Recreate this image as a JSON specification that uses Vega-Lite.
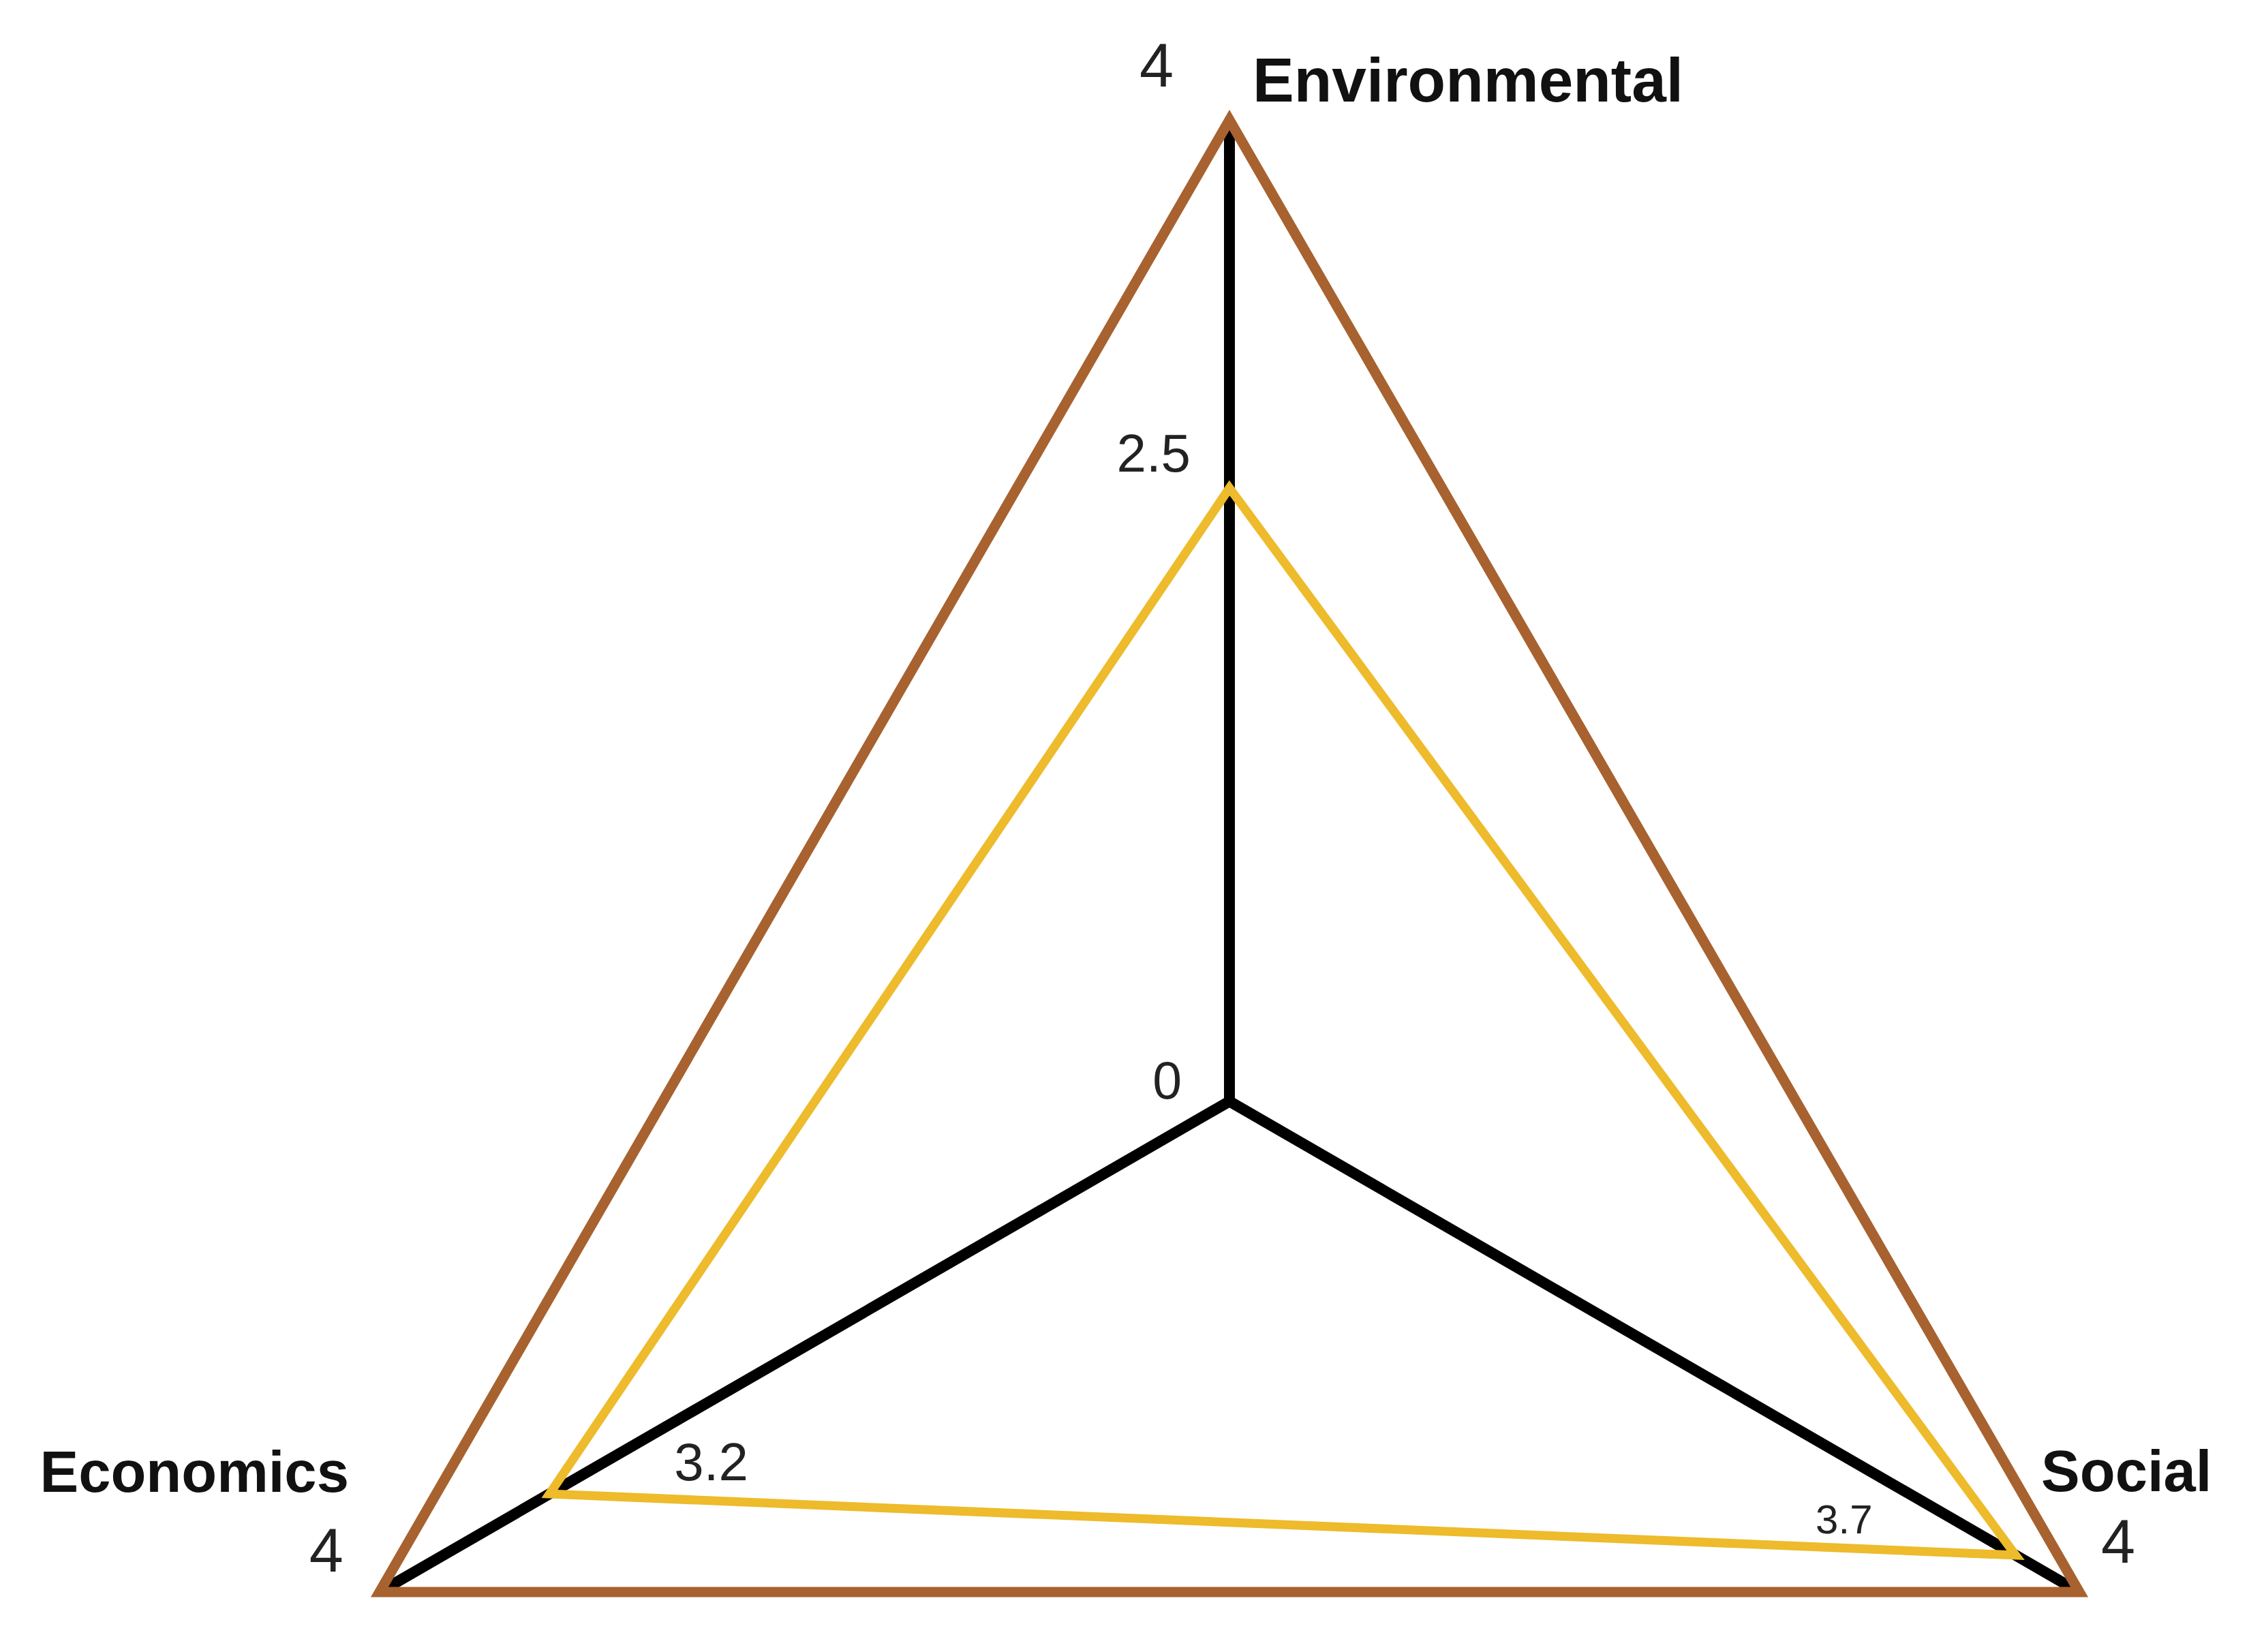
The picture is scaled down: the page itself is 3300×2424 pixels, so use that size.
{
  "$schema": "https://vega.github.io/schema/vega-lite/v6.json",
  "autosize": {"type": "fit", "contains": "padding"},
  "width": 3300,
  "height": 2424,
  "padding": 0,
  "background": "white",
  "config": {"view": {"stroke": null}},
  "data": {"values": [
    {"series": "Maximum", "axis": "Environmental", "value": 4},
    {"series": "Maximum", "axis": "Social", "value": 4},
    {"series": "Maximum", "axis": "Economics", "value": 4},
    {"series": "Score", "axis": "Environmental", "value": 2.5},
    {"series": "Score", "axis": "Social", "value": 3.7},
    {"series": "Score", "axis": "Economics", "value": 3.2},
    {"series": "Origin", "axis": "Environmental", "value": 0}
  ]},
  "transform": [
    {"calculate": "datum.axis === 'Environmental' ? 0 : (datum.axis === 'Social' ? 120 : 240)", "as": "angle"},
    {"calculate": "datum.value * sin(datum.angle * PI / 180)", "as": "px"},
    {"calculate": "datum.value * cos(datum.angle * PI / 180)", "as": "py"}
  ],
  "encoding": {
    "x": {"field": "px", "type": "quantitative", "scale": {"domain": [-5.0111, 4.1556], "nice": false, "zero": false}, "axis": null},
    "y": {"field": "py", "type": "quantitative", "scale": {"domain": [-2.2444, 4.4889], "nice": false, "zero": false}, "axis": null}
  },
  "layer": [
    {
      "transform": [{"filter": "datum.series === 'Maximum'"}],
      "mark": {"type": "rule", "color": "#000000", "strokeWidth": 16, "strokeCap": "butt"},
      "encoding": {
        "x": {"datum": 0, "type": "quantitative"},
        "y": {"datum": 0, "type": "quantitative"},
        "x2": {"field": "px"},
        "y2": {"field": "py"}
      }
    },
    {
      "transform": [{"filter": "datum.series === 'Maximum'"}],
      "mark": {"type": "line", "interpolate": "linear-closed", "color": "#A8622F", "strokeWidth": 15, "strokeJoin": "miter"},
      "encoding": {"order": {"field": "angle", "type": "quantitative"}}
    },
    {
      "transform": [{"filter": "datum.series === 'Score'"}],
      "mark": {"type": "line", "interpolate": "linear-closed", "color": "#EDBB2B", "strokeWidth": 13, "strokeJoin": "miter"},
      "encoding": {"order": {"field": "angle", "type": "quantitative"}}
    },
    {
      "transform": [{"filter": "datum.series === 'Maximum' && datum.axis === 'Environmental'"}],
      "mark": {"type": "text", "align": "left", "baseline": "alphabetic", "dx": 34, "dy": -27, "font": "Liberation Sans", "fontWeight": "bold", "fontSize": 91, "color": "#111111"},
      "encoding": {"text": {"field": "axis"}}
    },
    {
      "transform": [{"filter": "datum.series === 'Maximum' && datum.axis === 'Economics'"}],
      "mark": {"type": "text", "align": "right", "baseline": "alphabetic", "dx": -45, "dy": -147, "font": "Liberation Sans", "fontWeight": "bold", "fontSize": 85, "color": "#111111"},
      "encoding": {"text": {"field": "axis"}}
    },
    {
      "transform": [{"filter": "datum.series === 'Maximum' && datum.axis === 'Social'"}],
      "mark": {"type": "text", "align": "left", "baseline": "alphabetic", "dx": -56, "dy": -148, "font": "Liberation Sans", "fontWeight": "bold", "fontSize": 85, "color": "#111111"},
      "encoding": {"text": {"field": "axis"}}
    },
    {
      "transform": [{"filter": "datum.series === 'Maximum' && datum.axis === 'Environmental'"}],
      "mark": {"type": "text", "align": "right", "baseline": "alphabetic", "dx": -82, "dy": -49, "font": "Liberation Sans", "fontSize": 90, "color": "#222222"},
      "encoding": {"text": {"field": "value", "type": "quantitative"}}
    },
    {
      "transform": [{"filter": "datum.series === 'Maximum' && datum.axis === 'Economics'"}],
      "mark": {"type": "text", "align": "right", "baseline": "alphabetic", "dx": -53, "dy": -30, "font": "Liberation Sans", "fontSize": 90, "color": "#222222"},
      "encoding": {"text": {"field": "value", "type": "quantitative"}}
    },
    {
      "transform": [{"filter": "datum.series === 'Maximum' && datum.axis === 'Social'"}],
      "mark": {"type": "text", "align": "left", "baseline": "alphabetic", "dx": 32, "dy": -43, "font": "Liberation Sans", "fontSize": 90, "color": "#222222"},
      "encoding": {"text": {"field": "value", "type": "quantitative"}}
    },
    {
      "transform": [{"filter": "datum.series === 'Score' && datum.axis === 'Environmental'"}],
      "mark": {"type": "text", "align": "right", "baseline": "alphabetic", "dx": -57, "dy": -24, "font": "Liberation Sans", "fontSize": 78, "color": "#222222"},
      "encoding": {"text": {"field": "value", "type": "quantitative", "format": ".1f"}}
    },
    {
      "transform": [{"filter": "datum.series === 'Score' && datum.axis === 'Economics'"}],
      "mark": {"type": "text", "align": "left", "baseline": "alphabetic", "dx": 183, "dy": -20, "font": "Liberation Sans", "fontSize": 78, "color": "#222222"},
      "encoding": {"text": {"field": "value", "type": "quantitative", "format": ".1f"}}
    },
    {
      "transform": [{"filter": "datum.series === 'Score' && datum.axis === 'Social'"}],
      "mark": {"type": "text", "align": "right", "baseline": "alphabetic", "dx": -210, "dy": -32, "font": "Liberation Sans", "fontSize": 60, "color": "#222222"},
      "encoding": {"text": {"field": "value", "type": "quantitative", "format": ".1f"}}
    },
    {
      "transform": [{"filter": "datum.series === 'Origin'"}],
      "mark": {"type": "text", "align": "right", "baseline": "alphabetic", "dx": -70, "dy": -4, "font": "Liberation Sans", "fontSize": 77, "color": "#222222"},
      "encoding": {"text": {"field": "value", "type": "quantitative"}}
    }
  ]
}
